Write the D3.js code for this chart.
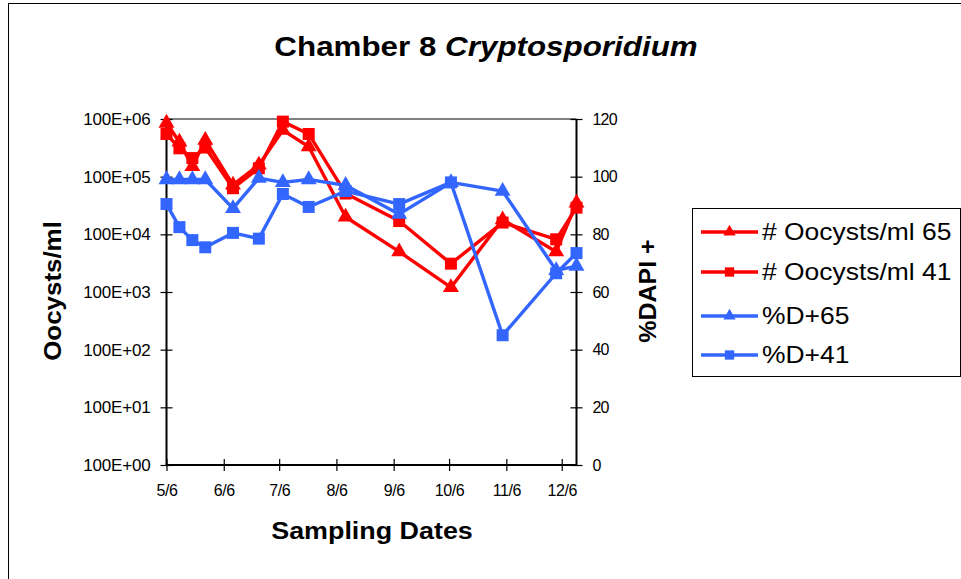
<!DOCTYPE html>
<html>
<head>
<meta charset="utf-8">
<script src="https://cdn.jsdelivr.net/npm/d3@7"></script>
<style>
  html, body { margin: 0; padding: 0; background: #fff; }
  svg { display: block; font-family: "Liberation Sans", Arial, sans-serif; }
</style>
</head>
<body>
<svg id="chart" width="961" height="579"></svg>
<script>
// Sampling dates (chamber 8)
const sampleDates = ["2002-05-06", "2002-05-13", "2002-05-20", "2002-05-27", "2002-06-11", "2002-06-25",
  "2002-07-08", "2002-07-22", "2002-08-11", "2002-09-09", "2002-10-07", "2002-11-04", "2002-12-03", "2002-12-14"];

// Oocyst counts per ml (log axis)
const oocysts65 = [8.5e5, 4.0e5, 1.5e5, 4.3e5, 7.2e4, 1.6e5, 6.4e5, 3.3e5, 2.0e4, 5.0e3, 1.2e3, 1.8e4, 5.0e3, 3.5e4];
const oocysts41 = [5.5e5, 3.1e5, 2.1e5, 3.2e5, 6.3e4, 1.4e5, 9.0e5, 5.5e5, 5.1e4, 1.7e4, 3.1e3, 1.6e4, 8.2e3, 2.9e4];

// Percent DAPI positive (right axis)
const dapi65 = [99, 99, 99, 99, 89, 99.5, 98, 99, 97, 87, 98, 95, 67.5, 69];
const dapi41 = [90.5, 82.5, 78, 75.5, 80.5, 78.5, 94, 89.5, 95, 90.5, 98, 45, 66.5, 73.5];

// Axis ticks
const xTickDates = ["2002-05-06", "2002-06-06", "2002-07-06", "2002-08-06", "2002-09-06", "2002-10-06", "2002-11-06", "2002-12-06"];
const xDomain = ["2002-05-06", "2002-12-14"];
const leftTicks = [1e0, 1e1, 1e2, 1e3, 1e4, 1e5, 1e6];
const leftTickLabels = ["100E+00", "100E+01", "100E+02", "100E+03", "100E+04", "100E+05", "100E+06"];
const rightTicks = [0, 20, 40, 60, 80, 100, 120];

const seriesNames = ["# Oocysts/ml 65", "# Oocysts/ml 41", "%D+65", "%D+41"];

const parse = d3.timeParse("%Y-%m-%d");
const fmt = d3.timeFormat("%-m/%-d");
const RED = "#FF0000", BLUE = "#3366FF";

const svg = d3.select("#chart");

// Chart frame
svg.append("rect").attr("x", 8.5).attr("y", 3.5).attr("width", 980).attr("height", 600)
  .attr("fill", "#fff").attr("stroke", "#000").attr("stroke-width", 1);

const L = 166.5, R = 576.5, T = 119, B = 465;

const x = d3.scaleTime().domain(xDomain.map(parse)).range([L, R]);
const yL = d3.scaleLog().domain([1, 1e6]).range([B, T]);
const yR = d3.scaleLinear().domain([0, 120]).range([B, T]);

// Plot area top border
svg.append("line").attr("x1", L).attr("x2", R).attr("y1", T).attr("y2", T)
  .attr("stroke", "#808080").attr("stroke-width", 2);

// Left log axis
const gL = svg.append("g").attr("transform", `translate(${L},0)`)
  .call(d3.axisLeft(yL).tickValues(leftTicks).tickSize(6).tickFormat((d, i) => leftTickLabels[i]));
// Right linear axis
const gR = svg.append("g").attr("transform", `translate(${R},0)`)
  .call(d3.axisRight(yR).tickValues(rightTicks).tickSize(6).tickFormat(d3.format("d")));
// Bottom date axis
const gX = svg.append("g").attr("transform", `translate(0,${B})`)
  .call(d3.axisBottom(x).tickValues(xTickDates.map(parse)).tickSize(6).tickFormat(fmt));

[gL, gR, gX].forEach(g => {
  g.select(".domain").attr("stroke", "#000").attr("stroke-width", 2);
  g.selectAll(".tick line").attr("stroke", "#000").attr("stroke-width", 1.2);
  g.selectAll("text").attr("fill", "#000").attr("font-size", 16)
    .attr("font-family", "'Liberation Sans', Arial, sans-serif");
});
// crossing tick marks
gL.selectAll(".tick line").attr("x1", 6).attr("x2", -6);
gR.selectAll(".tick line").attr("x1", -6).attr("x2", 6);
gX.selectAll(".tick line").attr("y1", -6).attr("y2", 6);
gL.selectAll(".tick text").attr("x", -16).attr("font-size", 17).attr("letter-spacing", -0.2);
gR.selectAll(".tick text").attr("x", 16).attr("letter-spacing", -0.8);
gX.selectAll(".tick text").attr("y", 20).attr("dy", "0.71em").attr("letter-spacing", -0.4);
gL.select(".domain").attr("d", `M0,${T}V${B}`);
gR.select(".domain").attr("d", `M0,${T}V${B}`);
gX.select(".domain").attr("d", `M${L},0H${R}`);

// Series
const dates = sampleDates.map(parse);
const series = [
  { name: seriesNames[0], values: oocysts65, y: yL, color: RED, shape: d3.symbolTriangle },
  { name: seriesNames[1], values: oocysts41, y: yL, color: RED, shape: d3.symbolSquare },
  { name: seriesNames[2], values: dapi65, y: yR, color: BLUE, shape: d3.symbolTriangle },
  { name: seriesNames[3], values: dapi41, y: yR, color: BLUE, shape: d3.symbolSquare }
];

const symSize = s => s === d3.symbolTriangle ? 110 : 144;

series.forEach(s => {
  const pts = s.values.map((v, i) => [x(dates[i]), s.y(v)]);
  svg.append("path").attr("d", d3.line()(pts)).attr("fill", "none")
    .attr("stroke", s.color).attr("stroke-width", 3.4).attr("stroke-linejoin", "round");
  svg.append("g").selectAll("path").data(pts).join("path")
    .attr("transform", d => `translate(${d[0]},${d[1]})`)
    .attr("d", d3.symbol().type(s.shape).size(symSize(s.shape)))
    .attr("fill", s.color);
});

// Titles
const title = svg.append("text").attr("transform", "translate(486,56) scale(1.12,1)").attr("text-anchor", "middle")
  .attr("font-size", 28).attr("font-weight", "bold").attr("fill", "#000");
title.append("tspan").text("Chamber 8 ");
title.append("tspan").attr("font-style", "italic").text("Cryptosporidium");

svg.append("text").attr("transform", "translate(61,291) rotate(-90) scale(1.08,1)").attr("text-anchor", "middle")
  .attr("font-size", 24).attr("font-weight", "bold").attr("fill", "#000").text("Oocysts/ml");
svg.append("text").attr("transform", "translate(656,291) rotate(-90) scale(1.04,1)").attr("text-anchor", "middle")
  .attr("font-size", 24).attr("font-weight", "bold").attr("fill", "#000").text("%DAPI +");
svg.append("text").attr("transform", "translate(372,539) scale(1.12,1)").attr("text-anchor", "middle")
  .attr("font-size", 24).attr("font-weight", "bold").attr("fill", "#000").text("Sampling Dates");

// Legend
const lg = svg.append("g");
lg.append("rect").attr("x", 692.5).attr("y", 208.5).attr("width", 268).attr("height", 168)
  .attr("fill", "#fff").attr("stroke", "#000").attr("stroke-width", 1);
const rowY = [232, 272, 316, 355];
series.forEach((s, i) => {
  const g = lg.append("g").attr("transform", `translate(0,${rowY[i]})`);
  g.append("line").attr("x1", 701).attr("x2", 758).attr("stroke", s.color).attr("stroke-width", 3.4);
  g.append("path").attr("transform", "translate(729.5,0)")
    .attr("d", d3.symbol().type(s.shape).size(symSize(s.shape) * 0.6)).attr("fill", s.color);
  g.append("text").attr("transform", "translate(762,0) scale(1.15,1)").attr("dy", "0.36em").attr("font-size", 23)
    .attr("fill", "#000").text(s.name);
});
</script>
</body>
</html>
